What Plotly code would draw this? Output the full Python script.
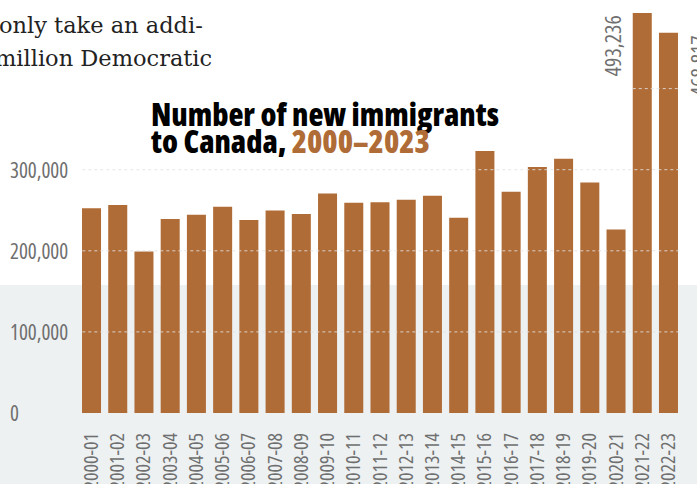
import plotly.graph_objects as go

categories = ["2000-01", "2001-02", "2002-03", "2003-04", "2004-05", "2005-06",
              "2006-07", "2007-08", "2008-09", "2009-10", "2010-11", "2011-12",
              "2012-13", "2013-14", "2014-15", "2015-16", "2016-17", "2017-18",
              "2018-19", "2019-20", "2020-21", "2021-22", "2022-23"]
immigrants = [252500, 256400, 199200, 239100, 244600, 254400, 238100, 249600,
              245300, 270600, 259100, 260000, 263100, 267900, 240800, 323200,
              272700, 303300, 313600, 284200, 226300, 493236, 468817]
y_ticks = [0, 100000, 200000, 300000]
y_tick_labels = ["0", "100,000", "200,000", "300,000"]
hidden_grid = [400000]
value_labels = {"2021-22": "493,236", "2022-23": "468,817"}

W, H = 697, 484
BROWN = "#b06c37"
GRAY_TXT = "#6f6f6f"
COND = "Open Sans"
BARGAP = 0.275


def px_x(p):
    return p / W


def px_y(p):
    return 1 - p / H


def cond(t):
    return "<span style='font-stretch:condensed'>%s</span>" % t


fig = go.Figure()
fig.add_trace(go.Bar(x=categories, y=immigrants, marker_color=BROWN,
                     marker_line_width=0, hoverinfo="x+y"))

shapes = []
# grey page band behind the lower part of the chart
shapes.append(dict(type="rect", xref="paper", yref="paper", x0=0, x1=1,
                   y0=0, y1=px_y(285), fillcolor="#edf1f2", line_width=0,
                   layer="below"))
grid_style = dict(color="rgba(226,226,226,0.85)", width=1, dash="dot")
for v in y_ticks[1:]:
    shapes.append(dict(type="line", xref="x", yref="y", x0=-0.35, x1=len(categories) - 0.5,
                       y0=v, y1=v, line=grid_style, layer="above"))
hw = (1 - BARGAP) / 2
for v in hidden_grid:
    shapes.append(dict(type="line", xref="x", yref="y", x0=len(categories) - 2 - hw,
                       x1=len(categories) - 1 + hw, y0=v, y1=v, line=grid_style,
                       layer="above"))

annotations = []
for v, t in zip(y_ticks, y_tick_labels):
    annotations.append(dict(x=px_x(8), xref="paper", y=v, yref="y", text=cond(t),
                            showarrow=False, xanchor="left", yanchor="middle",
                            font=dict(family=COND, size=21, color=GRAY_TXT)))

bar_half_px = 9.5
for cat, side in (("2021-22", -1), ("2022-23", 1)):
    annotations.append(dict(x=cat, y=immigrants[categories.index(cat)], xref="x", yref="y",
                            text=cond(value_labels[cat]), textangle=-90, showarrow=False,
                            xanchor="right" if side < 0 else "left", yanchor="top",
                            xshift=side * (bar_half_px + 3),
                            font=dict(family=COND, size=22, color=GRAY_TXT)))

# chart title
TITLE_FONT = dict(family=COND, size=31, color="#000000", weight=800)
annotations.append(dict(x=px_x(149), y=px_y(137), xref="paper", yref="paper",
                        text=cond("Number of new immigrants"), showarrow=False,
                        xanchor="left", yanchor="bottom", font=TITLE_FONT))
annotations.append(dict(x=px_x(149), y=px_y(164), xref="paper", yref="paper",
                        text=cond("to Canada, <span style='color:%s'>2000–2023</span>" % BROWN),
                        showarrow=False, xanchor="left", yanchor="bottom", font=TITLE_FONT))

# article text above the chart
BODY = dict(family="DejaVu Serif, Liberation Serif, serif", size=22.5, color="#222222")
annotations.append(dict(x=px_x(-3), y=px_y(40), xref="paper", yref="paper",
                        text="only take an addi-", showarrow=False,
                        xanchor="left", yanchor="bottom", font=BODY))
annotations.append(dict(x=px_x(-7), y=px_y(73), xref="paper", yref="paper",
                        text="million Democratic", showarrow=False,
                        xanchor="left", yanchor="bottom", font=BODY))

fig.update_layout(
    width=W, height=H, margin=dict(l=0, r=0, t=0, b=0, autoexpand=False),
    paper_bgcolor="white", plot_bgcolor="rgba(0,0,0,0)",
    bargap=BARGAP, showlegend=False,
    shapes=shapes, annotations=annotations,
    xaxis=dict(domain=[px_x(78.4), px_x(681.6)], range=[-0.5, len(categories) - 0.5],
               type="category", tickmode="array", tickvals=categories,
               ticktext=[cond(c) for c in categories], automargin=False,
               tickangle=-90, showgrid=False, zeroline=False,
               showline=False, ticks="outside", ticklen=11, tickcolor="rgba(0,0,0,0)",
               tickfont=dict(family=COND, size=20, color=GRAY_TXT)),
    yaxis=dict(domain=[px_y(413), 1], range=[0, 413 / 81.1 * 100000], automargin=False,
               showgrid=False, zeroline=False, showline=False, showticklabels=False),
)

fig.write_html("out.html", config={"displayModeBar": False},
               post_script="document.body.style.margin='0';")
